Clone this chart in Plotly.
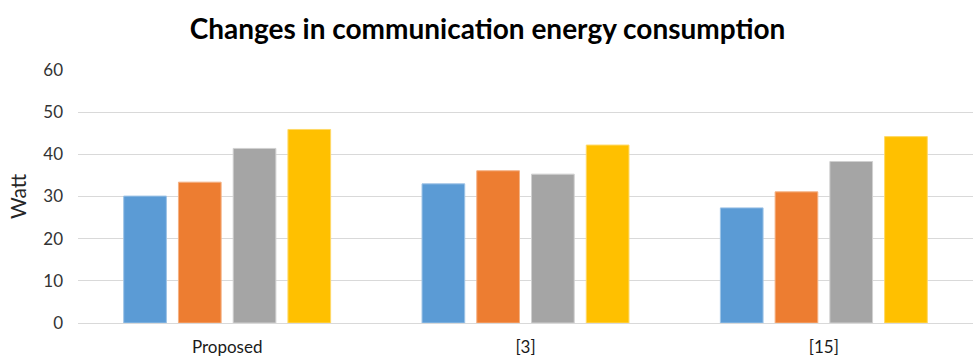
import plotly.graph_objects as go

# Communication energy consumption (Watt) per method, four scenarios each
categories = ["Proposed", "[3]", "[15]"]
series_a = [30.1, 33.0, 27.3]
series_b = [33.4, 36.1, 31.1]
series_c = [41.4, 35.3, 38.3]
series_d = [45.9, 42.2, 44.2]
y_ticks = [0, 10, 20, 30, 40, 50, 60]

colors = ["#5B9BD5", "#ED7D31", "#A5A5A5", "#FFC000"]
edges = ["#9DC3E6", "#F4B183", "#D0D0D0", "#FFD966"]

fig = go.Figure()
for vals, c, e in zip([series_a, series_b, series_c, series_d], colors, edges):
    fig.add_trace(go.Bar(
        x=categories, y=vals,
        marker=dict(color=c, line=dict(color=e, width=1)),
        showlegend=False,
    ))

fig.update_layout(
    width=975, height=360,
    margin=dict(l=78, r=2, t=70, b=37),
    paper_bgcolor="white", plot_bgcolor="white",
    barmode="group", bargap=0.266, bargroupgap=0.22,
    title=dict(
        text="<b>Changes in communication energy consumption</b>",
        x=0.5, xanchor="center", y=0.92, yanchor="middle",
        font=dict(family="Lato", size=28, color="#000000"),
    ),
    font=dict(family="Lato", color="#404040"),
    yaxis=dict(
        range=[0, 60], tickvals=y_ticks,
        showgrid=True, gridcolor="#D9D9D9", gridwidth=1,
        zeroline=True, zerolinecolor="#D9D9D9", zerolinewidth=1,
        showline=False, ticks="", ticklabelstandoff=14,
        tickfont=dict(size=17, color="#333333"),
        title=dict(text="Watt", font=dict(size=21, color="#262626"), standoff=10),
    ),
    xaxis=dict(
        showgrid=False, showline=False, ticks="", ticklabelstandoff=12,
        tickfont=dict(size=17, color="#1a1a1a"),
    ),
)

fig.write_html("out.html")
